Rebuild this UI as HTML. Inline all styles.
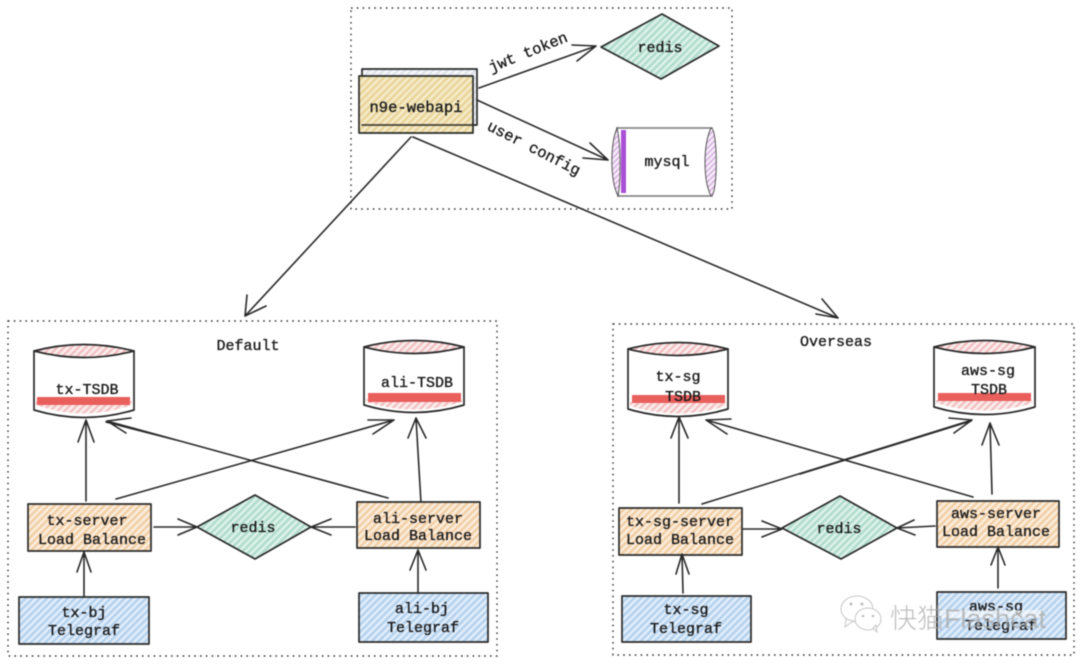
<!DOCTYPE html>
<html><head><meta charset="utf-8">
<style>
html,body{margin:0;padding:0;background:#fff;width:1080px;height:664px;overflow:hidden}
svg{display:block;filter:blur(.4px)}
text{font-family:"Liberation Mono","DejaVu Sans Mono",monospace;font-size:15px;fill:#1b1b1b;text-anchor:middle;stroke:#1b1b1b;stroke-width:.35}
.d{fill:none;stroke:#333;stroke-width:1.4;stroke-dasharray:1.6 4.2}
.l{fill:none;stroke:#2a2a2a;stroke-width:1.6;stroke-linejoin:round;stroke-linecap:round}
.b{stroke:#2a2a2a;stroke-width:1.7;stroke-linejoin:round}
</style></head><body>
<svg width="1080" height="664" viewBox="0 0 1080 664" xmlns="http://www.w3.org/2000/svg">
<defs>
<pattern id="y" width="5" height="5" patternUnits="userSpaceOnUse" patternTransform="rotate(45)"><rect width="5" height="5" fill="#f6eccb"/><rect width="2.6" height="5" fill="#e9d59a"/></pattern>
<pattern id="g" width="5" height="5" patternUnits="userSpaceOnUse" patternTransform="rotate(45)"><rect width="5" height="5" fill="#dff2eb"/><rect width="2.6" height="5" fill="#b0ddcd"/></pattern>
<pattern id="o" width="5" height="5" patternUnits="userSpaceOnUse" patternTransform="rotate(45)"><rect width="5" height="5" fill="#fbeede"/><rect width="2.6" height="5" fill="#f2cfa6"/></pattern>
<pattern id="u" width="5" height="5" patternUnits="userSpaceOnUse" patternTransform="rotate(45)"><rect width="5" height="5" fill="#e3eefa"/><rect width="2.6" height="5" fill="#b5d2ee"/></pattern>
<pattern id="r" width="5" height="5" patternUnits="userSpaceOnUse" patternTransform="rotate(45)"><rect width="5" height="5" fill="#fbeeee"/><rect width="2.4" height="5" fill="#f2c0c2"/></pattern>
<pattern id="p" width="4" height="4" patternUnits="userSpaceOnUse" patternTransform="rotate(45)"><rect width="4" height="4" fill="#f8f0fa"/><rect width="1.8" height="4" fill="#d9b5e2"/></pattern>
<pattern id="w" width="5" height="5" patternUnits="userSpaceOnUse" patternTransform="rotate(45)"><rect width="5" height="5" fill="#f4f6f9"/><rect width="2.2" height="5" fill="#dfe3ea"/></pattern>
</defs>

<!-- dotted frames -->
<path class="d" d="M351 8H732V209H351Z"/>
<path class="d" d="M8 321H497V656H8Z"/>
<path class="d" d="M613 324H1074V655H613Z"/>

<!-- top group -->
<rect class="b" x="362" y="69" width="115" height="56" fill="url(#w)"/>
<rect class="b" x="359" y="76" width="114" height="57" fill="url(#y)"/>
<path class="l" d="M362 125H475"/>
<text x="416" y="112" style="font-size:15.5px">n9e-webapi</text>
<path class="b" d="M601 47L662 14L719 46L661 79Z" fill="url(#g)"/>
<text x="660" y="52">redis</text>
<path d="M617 128H712V196H618Z" fill="#fff" stroke="#777" stroke-width="1.4"/>
<path d="M617 128C610 145 610 180 618 196C621 180 621 145 617 128Z" fill="url(#p)" stroke="#555" stroke-width="1"/>
<path d="M711 128C718 128 718 196 711 196C703 180 703 145 711 128Z" fill="url(#p)" stroke="#555" stroke-width="1"/>
<rect x="621" y="130" width="5" height="63" fill="#a94fd6"/>
<text x="667" y="166">mysql</text>
<path class="l" d="M479 88L596 46M572 45L596 46L577 61"/>
<path class="l" d="M477 100L608 160M590 143L608 160L583 158"/>
<text x="528" y="57" transform="rotate(-22 528 52)" style="font-size:15.5px">jwt token</text>
<text x="534" y="153" transform="rotate(27 534 148)" style="font-size:15.5px">user config</text>
<path class="l" d="M411 137L245 316M247 295L245 316L266 306"/>
<path class="l" d="M413 137L838 318M816 314L838 318L822 299"/>

<!-- Default -->
<text x="248" y="350">Default</text>
<path class="b" d="M34 351V410Q84 425 134 410V351Z" fill="#fff"/>
<path class="b" d="M34 351Q84 338 134 351Q84 364 34 351Z" fill="url(#r)"/>
<path d="M36 405Q84 422 132 405V401H36Z" fill="url(#r)"/>
<rect x="37" y="397" width="93" height="8" fill="#e85f5c"/>
<text x="87" y="394">tx-TSDB</text>
<path class="b" d="M364 347V405Q414 420 464 405V347Z" fill="#fff"/>
<path class="b" d="M364 347Q414 334 464 347Q414 360 364 347Z" fill="url(#r)"/>
<path d="M366 402Q414 417 462 402V399H366Z" fill="url(#r)"/>
<rect x="368" y="393" width="93" height="9" fill="#e85f5c"/>
<text x="417" y="387">ali-TSDB</text>

<path class="l" d="M86 501V420M78 442L86 420L94 442"/>
<path class="l" d="M388 498L107 421M180 441L106 422M126 433L107 421L131 418"/>
<path class="l" d="M116 499L394 420M373 434L394 420L368 420"/>
<path class="l" d="M421 503L416 418M408 438L416 418L426 438"/>

<rect class="b" x="28" y="504" width="123" height="47" fill="url(#o)"/>
<text x="87" y="525">tx-server</text>
<text x="92" y="544">Load Balance</text>
<rect class="b" x="357" y="502" width="123" height="46" fill="url(#o)"/>
<text x="418" y="523">ali-server</text>
<text x="418" y="540">Load Balance</text>
<path class="b" d="M197 527L255 495L311 527L255 559Z" fill="url(#g)"/>
<text x="253" y="532">redis</text>
<path class="l" d="M154 527H197M178 519L197 527L178 535"/>
<path class="l" d="M355 527H311M331 519L311 527L331 535"/>
<rect class="b" x="19" y="597" width="130" height="47" fill="url(#u)"/>
<text x="84" y="617">tx-bj</text>
<text x="84" y="635">Telegraf</text>
<rect class="b" x="359" y="593" width="129" height="49" fill="url(#u)"/>
<text x="422" y="613">ali-bj</text>
<text x="423" y="632">Telegraf</text>
<path class="l" d="M84 596V552M77 572L84 552L91 572"/>
<path class="l" d="M418 592V550M410 570L418 550L426 570"/>

<!-- Overseas -->
<text x="836" y="346">Overseas</text>
<path class="b" d="M628 349V409Q678 424 728 409V349Z" fill="#fff"/>
<path class="b" d="M628 349Q678 336 728 349Q678 362 628 349Z" fill="url(#r)"/>
<path d="M630 406Q678 421 726 406V402H630Z" fill="url(#r)"/>
<rect x="632" y="395" width="93" height="8" fill="#e85f5c"/>
<text x="678" y="381">tx-sg</text>
<text x="683" y="401">TSDB</text>
<path class="b" d="M934 347V407Q984 422 1035 407V347Z" fill="#fff"/>
<path class="b" d="M934 347Q984 334 1035 347Q984 360 934 347Z" fill="url(#r)"/>
<path d="M936 403Q984 418 1033 403V400H936Z" fill="url(#r)"/>
<rect x="938" y="393" width="93" height="8" fill="#e85f5c"/>
<text x="988" y="375">aws-sg</text>
<text x="989" y="394">TSDB</text>

<path class="l" d="M679 503V417M671 438L679 417L688 438"/>
<path class="l" d="M973 497L706 420M727 434L706 420L731 419"/>
<path class="l" d="M702 504L972 420M800 474L971 421M954 433L972 420L949 418"/>
<path class="l" d="M992 494L990 423M982 445L990 423L999 445"/>

<rect class="b" x="619" y="508" width="123" height="47" fill="url(#o)"/>
<text x="680" y="526">tx-sg-server</text>
<text x="680" y="544">Load Balance</text>
<rect class="b" x="937" y="501" width="122" height="46" fill="url(#o)"/>
<text x="996" y="518">aws-server</text>
<text x="996" y="536">Load Balance</text>
<path class="b" d="M782 528L840 496L897 528L841 559Z" fill="url(#g)"/>
<text x="839" y="533">redis</text>
<path class="l" d="M743 529H782M762 521L782 529L762 537"/>
<path class="l" d="M935 526L897 528M914 520L897 528L915 535"/>
<rect class="b" x="622" y="596" width="129" height="46" fill="url(#u)"/>
<text x="686" y="614">tx-sg</text>
<text x="686" y="633">Telegraf</text>
<rect class="b" x="937" y="592" width="129" height="47" fill="url(#u)"/>
<text x="996" y="611">aws-sg</text>
<text x="1001" y="630">Telegraf</text>
<path class="l" d="M683 593L682 554M676 574L682 554L689 574"/>
<path class="l" d="M998 588V547M991 565L998 547L1005 565"/>

<!-- watermark -->
<rect x="940" y="610" width="102" height="8" fill="#fff" fill-opacity=".55"/>
<g opacity=".95">
<ellipse cx="857" cy="609" rx="16" ry="13" fill="#fff" stroke="#c4c4c4" stroke-width="1"/>
<path d="M846 619L845 627L853 621Z" fill="#fff" stroke="#c4c4c4"/>
<ellipse cx="868" cy="619" rx="13" ry="11" fill="#fff" stroke="#c4c4c4" stroke-width="1"/>
<path d="M873 628L877 632L876 625Z" fill="#fff" stroke="#c4c4c4"/>
<circle cx="851" cy="604" r="1.5" fill="#bbb"/><circle cx="862" cy="604" r="1.5" fill="#bbb"/>
<circle cx="863" cy="616" r="1.3" fill="#bbb"/><circle cx="873" cy="616" r="1.3" fill="#bbb"/>
<text x="968" y="628" style="font-family:'Liberation Sans','Noto Sans CJK SC',sans-serif;font-size:27px;stroke:none;fill:#a9a9a9;fill-opacity:.8;font-weight:300">快猫Flashcat</text>
</g>
</svg>
</body></html>
